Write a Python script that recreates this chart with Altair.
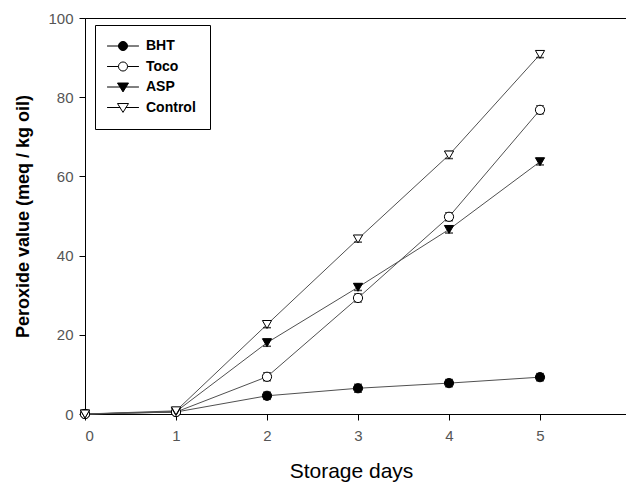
import altair as alt
import pandas as pd

days = [0, 1, 2, 3, 4, 5]
series_names = ["BHT", "Toco", "ASP", "Control"]
bht = [0.0, 0.5, 4.6, 6.5, 7.8, 9.3]
toco = [0.0, 0.5, 9.4, 29.3, 49.8, 76.8]
asp = [0.0, 0.6, 18.0, 32.0, 46.6, 63.7]
control = [0.0, 0.8, 22.6, 44.2, 65.4, 90.8]
bht_err = [0.3, 0.3, 0.9, 1.0, 0.9, 0.9]
toco_err = [0.3, 0.3, 1.0, 1.0, 1.0, 1.0]
asp_err = [0.3, 0.3, 0.9, 0.8, 0.9, 0.8]
control_err = [0.3, 0.3, 0.8, 0.8, 0.9, 0.8]
x_ticks = [0, 1, 2, 3, 4, 5]
y_ticks = [0, 20, 40, 60, 80, 100]

values = {"BHT": bht, "Toco": toco, "ASP": asp, "Control": control}
errors = {"BHT": bht_err, "Toco": toco_err, "ASP": asp_err, "Control": control_err}

rows = []
for s in series_names:
    for d, v, e in zip(days, values[s], errors[s]):
        rows.append({"day": d, "value": v, "series": s, "lo": v - e, "hi": v + e})
df = pd.DataFrame(rows)

FONT = "Liberation Sans"
FILLS = ["black", "white", "black", "white"]

x = alt.X(
    "day:Q",
    scale=alt.Scale(domain=[0, 5.945], nice=False, zero=False),
    axis=alt.Axis(
        values=x_ticks,
        format="d",
        title="Storage days",
        titleFontSize=21,
        titleFontWeight="normal",
        titlePadding=17,
        titleX=266,
        labelPadding=8,
    ),
)
y = alt.Y(
    "value:Q",
    scale=alt.Scale(domain=[0, 100], nice=False),
    axis=alt.Axis(
        values=y_ticks,
        format="d",
        title="Peroxide value (meq / kg oil)",
        titleFontSize=18,
        titleFontWeight="bold",
        titlePadding=15,
        labelPadding=6,
    ),
)

base = alt.Chart(df)

lines = base.mark_line(color="#505050", strokeWidth=1).encode(
    x=x, y=y, detail="series:N"
)

err_rules = base.mark_rule(color="black", strokeWidth=1).encode(
    x="day:Q", y="lo:Q", y2="hi:Q"
)
caps_hi = base.mark_tick(orient="horizontal", size=8, thickness=1.5, color="black").encode(
    x="day:Q", y="hi:Q"
)
caps_lo = base.mark_tick(orient="horizontal", size=8, thickness=1.5, color="black").encode(
    x="day:Q", y="lo:Q"
)

points = base.mark_point(filled=True, stroke="black", strokeWidth=1, opacity=1, size=85).encode(
    x="day:Q",
    y="value:Q",
    shape=alt.Shape(
        "series:N",
        scale=alt.Scale(domain=series_names, range=["circle", "circle", "triangle-down", "triangle-down"]),
        legend=None,
    ),
    fill=alt.Fill("series:N", scale=alt.Scale(domain=series_names, range=FILLS), legend=None),
)

# legend-only layer: symbols drawn as line + marker paths
CIRC = "M-2.6,0H-0.74M0.74,0H2.6M-0.74,0A0.74,0.74,0,1,1,0.74,0A0.74,0.74,0,1,1,-0.74,0Z"
TRI = "M-2.6,0H-0.45M0.45,0H2.6M-0.9,-0.65L0.9,-0.65L0,0.8Z"

legend = alt.Legend(
    title=None,
    orient="none",
    legendX=10,
    legendY=7,
    strokeColor="black",
    fillColor="white",
    padding=14,
    symbolSize=150,
    symbolOpacity=1,
    symbolStrokeColor="black",
    symbolStrokeWidth=1,
    symbolOffset=7,
    labelOffset=16,
    rowPadding=6.5,
    labelFont=FONT,
    labelFontSize=14,
    labelFontWeight="bold",
    labelColor="black",
)

legend_layer = base.mark_point(filled=True, strokeWidth=1, opacity=0, size=10).encode(
    x="day:Q",
    y="value:Q",
    shape=alt.Shape(
        "series:N",
        scale=alt.Scale(domain=series_names, range=[CIRC, CIRC, TRI, TRI]),
        legend=legend,
    ),
    fill=alt.Fill("series:N", scale=alt.Scale(domain=series_names, range=FILLS), legend=legend),
    stroke=alt.Stroke(
        "series:N",
        scale=alt.Scale(domain=series_names, range=["black", "black", "black", "black"]),
        legend=legend,
    ),
)

chart = (
    alt.layer(lines, err_rules, caps_hi, caps_lo, points, legend_layer)
    .resolve_scale(shape="independent", fill="independent", stroke="independent")
    .properties(
        width=541,
        height=396,
        background="white",
        autosize=alt.AutoSizeParams(type="none"),
        padding={"left": 77, "top": 10, "right": 0, "bottom": 73},
    )
    .configure_view(stroke="black", strokeWidth=1)
    .configure_axis(
        grid=False,
        domainColor="black",
        domainWidth=1,
        tickColor="black",
        tickSize=6,
        labelColor="#555555",
        labelFont=FONT,
        labelFontSize=15,
        titleFont=FONT,
        titleColor="black",
    )
)

chart.save("out.html", embed_options={"renderer": "svg", "actions": False})
